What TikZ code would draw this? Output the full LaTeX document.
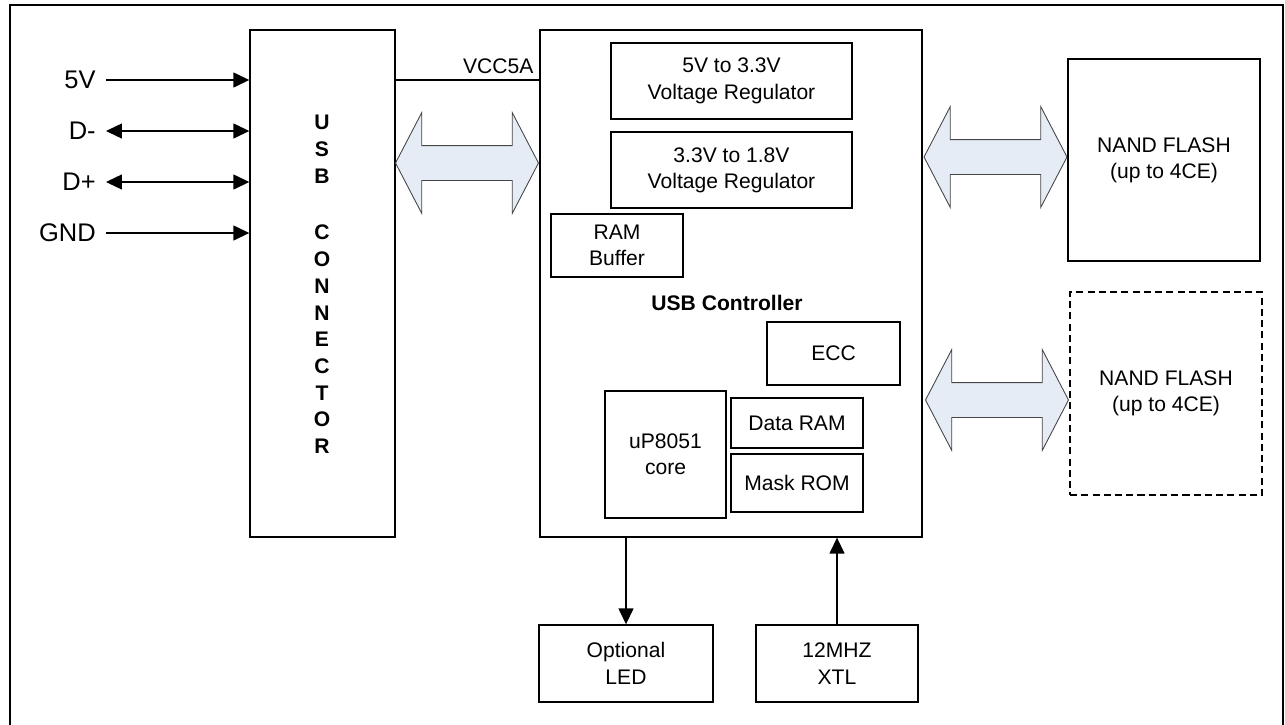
\documentclass[tikz,border=0pt]{standalone}
\usepackage{fontspec}
\setmainfont{Liberation Sans}
\usetikzlibrary{arrows.meta, positioning, calc, shapes.arrows}
\definecolor{busfill}{RGB}{229,236,246}
\definecolor{busedge}{RGB}{70,70,70}
\tikzset{
	>={Triangle[length=0.32cm, width=0.3cm]}, % filled arrow heads
	wire/.style={line width=0.8pt}, % plain signal lines
	block/.style={draw, rectangle, line width=0.8pt, inner sep=0pt, align=center, font=\fontsize{12}{15}\selectfont}, % every box
	optblock/.style={block, dash pattern=on 4pt off 2.4pt}, % optional part
	sig/.style={anchor=east, inner sep=0.2cm, font=\fontsize{14.5}{17}\selectfont}, % pin names
	bus/.style={double arrow, draw=busedge, fill=busfill, line width=0.5pt, inner xsep=0pt, inner ysep=0.34cm,
		minimum height=2.86cm, minimum width=2cm,
		double arrow head extend=0.66cm, double arrow tip angle=125}, % wide data paths
}
\begin{document}
\begin{tikzpicture}[x=0.02cm, y=-0.02cm]
	\useasboundingbox (0,0) rectangle (1285,724);
	% frame (bottom edge lies outside the page)
	\draw[wire] (10,740) |- (1283,5) -- (1283,740);

	% usb side
	\node[block, minimum width=2.9cm, minimum height=10.14cm] (usbconn) at (322.5,283.5) {};
	\node[font=\fontsize{12}{15.2}\selectfont\bfseries, align=center] (usbtext) at (322,284.5)
		{U\\S\\B\\[17pt]C\\O\\N\\N\\E\\C\\T\\O\\R};

	\node[sig] (p5v) at (106,80) {5V};
	\node[sig] (dminus) at (106,131) {D-};
	\node[sig] (dplus) at (106,182) {D+};
	\node[sig] (gnd) at (106,233) {GND};

	\draw[wire, ->] (p5v.east) -- (p5v.east -| usbconn.west);
	\draw[wire, <->] (dminus.east) -- (dminus.east -| usbconn.west);
	\draw[wire, <->] (dplus.east) -- (dplus.east -| usbconn.west);
	\draw[wire, ->] (gnd.east) -- (gnd.east -| usbconn.west);

	% controller
	\node[block, minimum width=7.64cm, minimum height=10.14cm] (ctrl) at (731,283.5) {};
	\node[font=\fontsize{12}{15}\selectfont\bfseries] (ctrltext) at (727,303) {USB Controller};
	\node[block, minimum width=4.82cm, minimum height=1.52cm] (reg1) at (731.5,81) {5V to 3.3V\\Voltage Regulator};
	\node[block, minimum width=4.82cm, minimum height=1.52cm] (reg2) at (731.5,170) {3.3V to 1.8V\\Voltage Regulator};
	\node[block, minimum width=2.64cm, minimum height=1.26cm] (rambuf) at (617,245.5) {RAM\\Buffer};
	\node[block, minimum width=2.66cm, minimum height=1.26cm] (ecc) at (833.5,353.5) {ECC};
	\node[block, minimum width=2.42cm, minimum height=2.54cm] (cpu) at (665.5,454.5) {uP8051\\core};
	\node[block, minimum width=2.64cm, minimum height=1.0cm] (dataram) at (797,423) {Data RAM};
	\node[block, minimum width=2.64cm, minimum height=1.16cm] (maskrom) at (797,483) {Mask ROM};

	\draw[wire] (usbconn.east |- p5v) -- (ctrl.west |- p5v)
		node[pos=1, above left, inner sep=3pt, font=\fontsize{12}{15}\selectfont] {VCC5A};
	\node[bus] (bususb) at (467,163) {};

	% below the controller
	\node[block, minimum width=3.48cm, minimum height=1.54cm] (led) at (626,663.5) {Optional\\LED};
	\node[block, minimum width=3.24cm, minimum height=1.54cm] (xtl) at (837,663.5) {12MHZ\\XTL};
	\draw[wire, ->] (ctrl.south -| led.north) -- (led.north);
	\draw[wire, ->] (xtl.north) -- (xtl.north |- ctrl.south);

	% flash side
	\node[block, minimum width=3.84cm, minimum height=4.04cm] (nand1) at (1164,160) {NAND FLASH\\(up to 4CE)};
	\node[optblock, minimum width=3.84cm, minimum height=4.06cm] (nand2) at (1166,393.5) {NAND FLASH\\(up to 4CE)};
	\node[bus] (busnand1) at (995.5,157) {};
	\node[bus] (busnand2) at (997,400) {};
\end{tikzpicture}
\end{document}
